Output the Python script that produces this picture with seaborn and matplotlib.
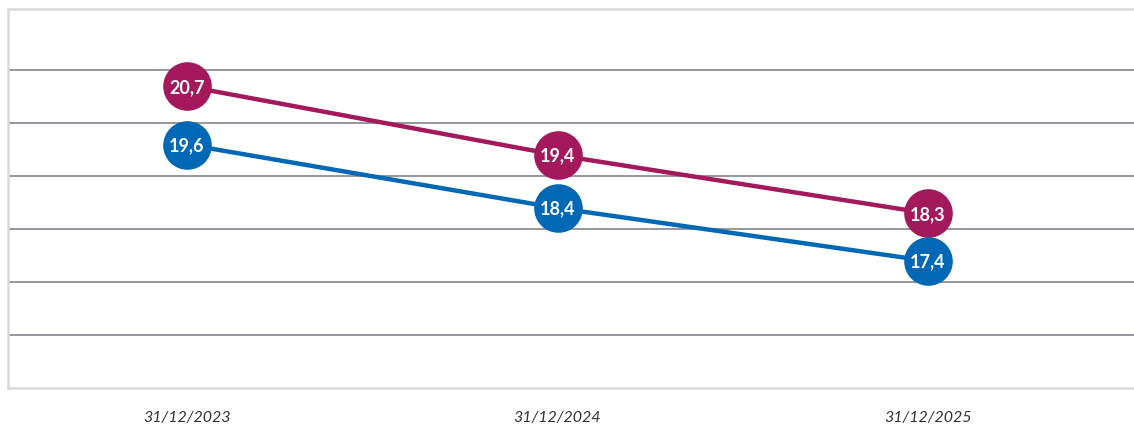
import pandas as pd
import matplotlib.pyplot as plt
import seaborn as sns

# ================== data ==================
DATES = ["31/12/2023", "31/12/2024", "31/12/2025"]
SERIES_A = [20.7, 19.4, 18.3]
SERIES_B = [19.6, 18.4, 17.4]
COLORS = {"A": "#A3195B", "B": "#0068B4"}
# ==========================================

df = pd.DataFrame({
    "Date": DATES * 2,
    "Value": SERIES_A + SERIES_B,
    "Serie": ["A"] * 3 + ["B"] * 3,
})
df["x"] = df.groupby("Serie").cumcount()

sns.set_theme(style="white")
plt.rcParams['font.family'] = ['Lato', 'DejaVu Sans']

fig = plt.figure(figsize=(11.34, 4.27), dpi=100)
ax = fig.add_axes([8 / 1134, 38 / 427, 1.1, 379 / 427])

sns.lineplot(data=df, x="x", y="Value", hue="Serie", palette=COLORS,
             marker="o", markersize=35, markeredgewidth=0, linewidth=3.2,
             legend=False, ax=ax)

# etiquettes dans les cercles
for _, r in df.iterrows():
    ax.text(r["x"], r["Value"], f"{r['Value']:.1f}".replace(".", ","),
            ha="center", va="center", color="white", fontsize=13,
            fontweight="bold", zorder=5)

px_per_cat = 370.5
width_px = 1.1 * 1134
ax.set_xlim(-179 / px_per_cat, -179 / px_per_cat + width_px / px_per_cat)
ax.set_ylim(15, 22.16)
ax.set_yticks(range(16, 22))
ax.set_yticklabels([])
ax.yaxis.grid(True, color="#8c8f94", linewidth=1.3)
ax.set_axisbelow(True)
ax.set_xticks(range(len(DATES)))
ax.set_xticklabels(DATES, fontstyle="italic", fontsize=11.5, color="#333333")
ax.tick_params(axis="both", length=0, pad=16)
ax.set_xlabel("")
ax.set_ylabel("")
for side in ["left", "top", "bottom"]:
    ax.spines[side].set_color("#d9d9d9")
    ax.spines[side].set_linewidth(1.8)
ax.spines["right"].set_visible(False)

plt.savefig("out.png", dpi=100)
